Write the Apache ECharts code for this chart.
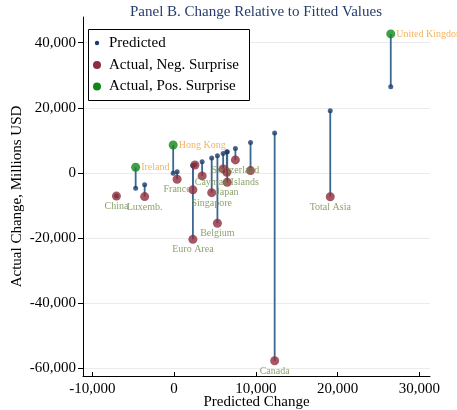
<!DOCTYPE html>
<html>
<head>
<meta charset="utf-8">
<script src="https://cdn.jsdelivr.net/npm/echarts@6/dist/echarts.min.js"></script>
<style>
  html, body { margin: 0; padding: 0; background: #fff; }
  #chart { width: 457px; height: 410px; }
</style>
</head>
<body>
<div id="chart"></div>
<script>
// Country / region labels (blank where a point carries no label)
const labels = ['United Kingdom', 'Total Asia', 'Canada', 'China', 'Ireland', 'Luxemb.',
  'Hong Kong', 'France', 'Euro Area', '', '', '', 'Singapore', 'Belgium', '',
  'Cayman Islands', 'Japan', 'Switzerland', ''];
// Predicted change (x) and actual change (y), millions USD
const predicted = [26500, 19100, 12300, -7050, -4700, -3600, -110, 370, 2300, 2300, 2550,
  3430, 4600, 5300, 6000, 6450, 6500, 7500, 9350];
const actual = [42700, -7300, -57700, -7100, 1750, -7270, 8600, -1950, -20400, -5200, 2450,
  -920, -6050, -15450, 1230, 200, -2870, 4000, 720];
const xTicks = [-10000, 0, 10000, 20000, 30000];
const yTicks = [-60000, -40000, -20000, 0, 20000, 40000];

const SERIF = '"Liberation Serif", "Times New Roman", serif';
const C_STEM = '#3b6791';
const C_PRED = '#1b3d6b';
const C_NEG = '#8e2e3c';
const C_POS = '#11871a';
const C_LAB_NEG = '#6f8c48';
const C_LAB_POS = '#f0a03a';

const fmt = v => v.toLocaleString('en-US');

const stemData = predicted.map((p, i) => [p, p, actual[i]]);
const predData = predicted.map(p => [p, p]);
const negData = [], posData = [];
predicted.forEach((p, i) => {
  const item = { name: labels[i], value: [p, actual[i]] };
  if (actual[i] > p) posData.push(item); else negData.push(item);
});

const chart = echarts.init(document.getElementById('chart'), null, { renderer: 'canvas' });

chart.setOption({
  animation: false,
  backgroundColor: '#fff',
  textStyle: { fontFamily: SERIF },
  title: {
    text: 'Panel B. Change Relative to Fitted Values',
    left: 256, top: 5, padding: 0, textAlign: 'center',
    textStyle: { fontFamily: SERIF, fontSize: 15, fontWeight: 'normal', color: '#263c6c' }
  },
  grid: { left: 83, right: 27, top: 17, bottom: 34, containLabel: false, outerBoundsMode: 'none' },
  xAxis: {
    type: 'value', min: -11140, max: 31300,
    name: 'Predicted Change', nameLocation: 'middle', nameGap: 19, nameMoveOverlap: false,
    nameTextStyle: { fontFamily: SERIF, fontSize: 15, color: '#000' },
    axisLine: { show: true, onZero: false, lineStyle: { color: '#000', width: 1 } },
    axisTick: { show: true, inside: true, length: 4, customValues: xTicks, lineStyle: { color: '#000' } },
    axisLabel: { customValues: xTicks, formatter: fmt, color: '#000', fontSize: 15, fontFamily: SERIF, margin: 6 },
    splitLine: { show: false }
  },
  yAxis: {
    type: 'value', min: -62370, max: 47900,
    name: 'Actual Change, Millions USD', nameLocation: 'middle', nameGap: 58, nameMoveOverlap: false,
    nameTextStyle: { fontFamily: SERIF, fontSize: 15, color: '#000' },
    axisLine: { show: true, onZero: false, lineStyle: { color: '#000', width: 1 } },
    axisTick: { show: true, inside: false, length: 5, customValues: yTicks, lineStyle: { color: '#000' } },
    axisLabel: { customValues: yTicks, formatter: fmt, color: '#000', fontSize: 15, fontFamily: SERIF, margin: 7 },
    splitLine: { show: true, lineStyle: { color: '#ebebeb', width: 1 } }
  },
  series: [
    {
      type: 'custom',
      name: 'stems',
      data: stemData,
      encode: { x: 0, y: [1, 2] },
      renderItem: (params, api) => {
        const a = api.coord([api.value(0), api.value(1)]);
        const b = api.coord([api.value(0), api.value(2)]);
        return {
          type: 'line',
          shape: { x1: a[0], y1: a[1], x2: b[0], y2: b[1] },
          style: { stroke: C_STEM, lineWidth: 1.8 }
        };
      }
    },
    {
      type: 'scatter', name: 'Predicted', data: predData,
      symbol: 'circle', symbolSize: 5,
      itemStyle: { color: C_PRED }
    },
    {
      type: 'scatter', name: 'Actual, Neg. Surprise', data: negData,
      symbol: 'circle', symbolSize: 9,
      itemStyle: { color: C_NEG },
      label: {
        show: true, position: 'bottom', distance: 1, formatter: '{b}',
        color: C_LAB_NEG, fontSize: 10, fontFamily: SERIF
      }
    },
    {
      type: 'scatter', name: 'Actual, Pos. Surprise', data: posData,
      symbol: 'circle', symbolSize: 9,
      itemStyle: { color: C_POS },
      label: {
        show: true, position: 'right', distance: 1, formatter: '{b}',
        color: C_LAB_POS, fontSize: 10, fontFamily: SERIF
      }
    }
  ],
  graphic: [
    { type: 'rect', z: 100, shape: { x: 88.5, y: 29.5, width: 161, height: 71 },
      style: { fill: '#fff', stroke: '#000', lineWidth: 1 } },
    { type: 'circle', z: 101, shape: { cx: 97, cy: 43, r: 2.2 }, style: { fill: C_PRED } },
    { type: 'circle', z: 101, shape: { cx: 97, cy: 65, r: 4 }, style: { fill: C_NEG } },
    { type: 'circle', z: 101, shape: { cx: 97, cy: 86.5, r: 4 }, style: { fill: C_POS } },
    { type: 'text', z: 101, x: 109, y: 43,
      style: { text: 'Predicted', fontSize: 15, fontFamily: SERIF, fill: '#000', verticalAlign: 'middle' } },
    { type: 'text', z: 101, x: 109, y: 65,
      style: { text: 'Actual, Neg. Surprise', fontSize: 15, fontFamily: SERIF, fill: '#000', verticalAlign: 'middle' } },
    { type: 'text', z: 101, x: 109, y: 86.5,
      style: { text: 'Actual, Pos. Surprise', fontSize: 15, fontFamily: SERIF, fill: '#000', verticalAlign: 'middle' } }
  ]
});
</script>
</body>
</html>
